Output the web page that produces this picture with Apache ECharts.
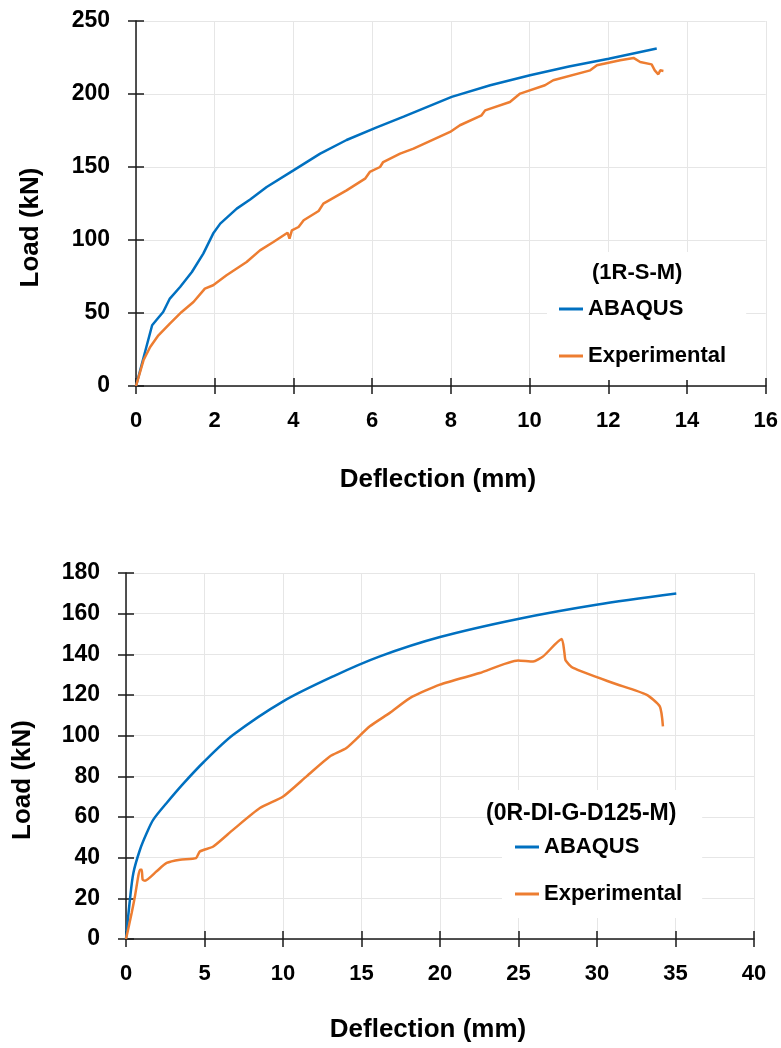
<!DOCTYPE html>
<html>
<head>
<meta charset="utf-8">
<script src="https://cdn.jsdelivr.net/npm/echarts@6/dist/echarts.min.js"></script>
<style>
  html, body { margin: 0; padding: 0; background: #fff; }
  #chart { width: 781px; height: 1048px; }
</style>
</head>
<body>
<div id="chart"></div>
<script>
// ---------------- DATA ----------------
const seriesNames = ['ABAQUS', 'Experimental'];
const topLabel = '(1R-S-M)';
const bottomLabel = '(0R-DI-G-D125-M)';
const xTitle = 'Deflection (mm)';
const yTitle = 'Load (kN)';

// Top chart axis ranges (tick labels 0..16 step 2, 0..250 step 50)
const topXTicks = [0, 16, 2];
const topYTicks = [0, 250, 50];
// Bottom chart axis ranges (tick labels 0..40 step 5, 0..180 step 20)
const botXTicks = [0, 40, 5];
const botYTicks = [0, 180, 20];

// Top chart (1R-S-M): [deflection mm, load kN]
const topAbaqus = [
  [0, 0], [0.41, 41.6], [0.53, 45.5], [0.69, 50.7], [0.86, 59.9], [1.12, 67.8],
  [1.42, 78.1], [1.71, 90.7], [1.96, 104.4], [2.14, 111.2], [2.56, 121.5],
  [2.90, 127.7], [3.32, 136.3], [4.0, 147.7], [4.68, 159.2], [5.35, 168.5],
  [6.1, 177.0], [6.8, 184.5], [8.02, 198], [9.0, 206], [10.01, 212.8],
  [11.0, 218.8], [12.01, 224.2], [13.23, 231.1]
];
const topExperimental = [
  [0, 0], [0.19, 17.6], [0.36, 26.7], [0.57, 34.7], [0.86, 42.7], [1.16, 50.7],
  [1.46, 57.5], [1.75, 66.7], [1.96, 69], [2.3, 75.8], [2.81, 84.9],
  [3.15, 92.9], [3.49, 98.6], [3.85, 105], [3.9, 101], [3.96, 106.6],
  [4.13, 108.9], [4.26, 113.5], [4.64, 119.9], [4.76, 124.9], [5.35, 134],
  [5.82, 142], [5.94, 146.6], [6.2, 150], [6.28, 153.4], [6.71, 159.2],
  [7.05, 162.6], [7.98, 174], [8.23, 178.6], [8.78, 185.4], [8.87, 188.8],
  [9.5, 194.5], [9.76, 200.3], [10.39, 206], [10.6, 209.4], [11.54, 216.2],
  [11.71, 219.7], [12.3, 223.1], [12.64, 224.7], [12.81, 221.9], [13.1, 220.3],
  [13.18, 216.2], [13.27, 213.5], [13.32, 216.2], [13.4, 215.8]
];

// Bottom chart (0R-DI-G-D125-M): [deflection mm, load kN]
const botAbaqus = [
  [0, 0], [0.25, 19.3], [0.47, 32.5], [0.89, 43.9], [1.32, 52.1], [1.74, 58.7],
  [2.59, 66.9], [3.65, 76.4], [4.92, 86.8], [6.83, 100.4], [10.01, 116.9],
  [13.2, 129.2], [16.17, 139], [20.0, 148.5], [24.97, 157.4], [29.96, 164.4],
  [35.05, 169.9]
];
const botExperimental = [
  [0, 0], [0.36, 12.8], [0.57, 21], [0.78, 30.8], [0.89, 34.1], [1.0, 34.1],
  [1.06, 29.2], [1.21, 28.7], [1.95, 33.3], [2.59, 37.4], [3.44, 39],
  [4.46, 39.8], [4.71, 43.1], [5.56, 45.5], [6.83, 53.8], [8.53, 64.4],
  [10.01, 70.1], [11.5, 80], [12.98, 89.8], [14.04, 93.9], [15.53, 104.6],
  [16.8, 111.2], [18.08, 118.5], [19.99, 125.1], [22.53, 130.8], [24.97, 137],
  [25.93, 136.5], [26.57, 139], [27.75, 147.5], [27.92, 141], [28.0, 137],
  [28.48, 133.3], [31.02, 125.9], [33.14, 120.2], [34.0, 114.4], [34.2, 104.6]
];

// ---------------- STYLE ----------------
const FONT = "'Liberation Sans', Arial, sans-serif";
const BLUE = '#0070C0';
const ORANGE = '#ED7D31';
const AXIS = { color: '#1a1a1a', width: 1.5 };
const GRIDLINE = { color: '#e6e6e6', width: 1 };

function mainX(grid, t, gap, pad) {
  return {
    gridIndex: grid, type: 'value', position: 'bottom',
    min: t[0], max: t[1], interval: t[2],
    axisLine: { show: true, onZero: false, lineStyle: AXIS },
    axisTick: { show: true, inside: false, length: 8, lineStyle: AXIS },
    axisLabel: { margin: 24, color: '#000', fontSize: 22, fontWeight: 'bold', fontFamily: FONT },
    splitLine: { show: true, lineStyle: GRIDLINE },
    name: xTitle, nameLocation: 'middle', nameGap: gap,
    nameTextStyle: { color: '#000', fontSize: 26, fontWeight: 'bold', fontFamily: FONT, padding: pad }
  };
}
function innerX(grid, t) {
  return {
    gridIndex: grid, type: 'value', position: 'bottom',
    min: t[0], max: t[1], interval: t[2],
    axisLine: { show: false, onZero: false },
    axisTick: { show: true, inside: true, length: 8, lineStyle: AXIS },
    axisLabel: { show: false }, splitLine: { show: false }
  };
}
function mainY(grid, t, gap, pad) {
  return {
    gridIndex: grid, type: 'value', position: 'left',
    min: t[0], max: t[1], interval: t[2],
    axisLine: { show: true, onZero: false, lineStyle: AXIS },
    axisTick: { show: true, inside: false, length: 8, lineStyle: AXIS },
    axisLabel: { margin: 26, color: '#000', fontSize: 23, fontWeight: 'bold', fontFamily: FONT },
    splitLine: { show: true, lineStyle: GRIDLINE },
    name: yTitle, nameLocation: 'middle', nameRotate: 90, nameGap: gap,
    nameTextStyle: { color: '#000', fontSize: 26, fontWeight: 'bold', fontFamily: FONT, padding: pad }
  };
}
function innerY(grid, t) {
  return {
    gridIndex: grid, type: 'value', position: 'left',
    min: t[0], max: t[1], interval: t[2],
    axisLine: { show: false, onZero: false },
    axisTick: { show: true, inside: true, length: 8, lineStyle: AXIS },
    axisLabel: { show: false }, splitLine: { show: false }
  };
}
function lineSeries(name, data, color, xi, yi, smooth) {
  return {
    name: name, type: 'line', data: data, xAxisIndex: xi, yAxisIndex: yi,
    showSymbol: false, symbol: 'none', smooth: smooth,
    lineStyle: { color: color, width: 2.5 }, itemStyle: { color: color },
    z: 3
  };
}
function legendAt(left, top, pad) {
  return {
    orient: 'vertical', left: left, top: top, padding: pad,
    data: seriesNames, icon: 'rect', itemWidth: 24, itemHeight: 3, itemGap: 25,
    backgroundColor: '#ffffff',
    textStyle: { color: '#000', fontSize: 22, fontWeight: 'bold', fontFamily: FONT },
    selectedMode: false
  };
}

const chart = echarts.init(document.getElementById('chart'), null, { renderer: 'canvas' });
chart.setOption({
  animation: false,
  backgroundColor: '#ffffff',
  grid: [
    { left: 136, top: 21, width: 630, height: 365 },
    { left: 126, top: 573, width: 628, height: 366 }
  ],
  title: [
    { text: topLabel, left: 592, top: 262, padding: 0, z: 10,
      textStyle: { color: '#000', fontSize: 22, fontWeight: 'bold', fontFamily: FONT } },
    { text: bottomLabel, left: 486, top: 802, padding: 0, z: 10,
      textStyle: { color: '#000', fontSize: 23, fontWeight: 'bold', fontFamily: FONT } }
  ],
  legend: [
    legendAt(547, 252, [46, 20, 13, 12]),
    legendAt(502, 790, [46, 20, 13, 13])
  ],
  xAxis: [
    mainX(0, topXTicks, 81, [0, 26, 0, 0]),
    innerX(0, topXTicks),
    mainX(1, botXTicks, 78, [0, 24, 0, 0]),
    innerX(1, botXTicks)
  ],
  yAxis: [
    mainY(0, topYTicks, 92, [0, 48, 0, 0]),
    innerY(0, topYTicks),
    mainY(1, botYTicks, 90, [0, 48, 0, 0]),
    innerY(1, botYTicks)
  ],
  series: [
    lineSeries(seriesNames[0], topAbaqus, BLUE, 0, 0, false),
    lineSeries(seriesNames[1], topExperimental, ORANGE, 0, 0, false),
    lineSeries(seriesNames[0], botAbaqus, BLUE, 2, 2, 0.3),
    lineSeries(seriesNames[1], botExperimental, ORANGE, 2, 2, 0.2)
  ]
});
</script>
</body>
</html>
